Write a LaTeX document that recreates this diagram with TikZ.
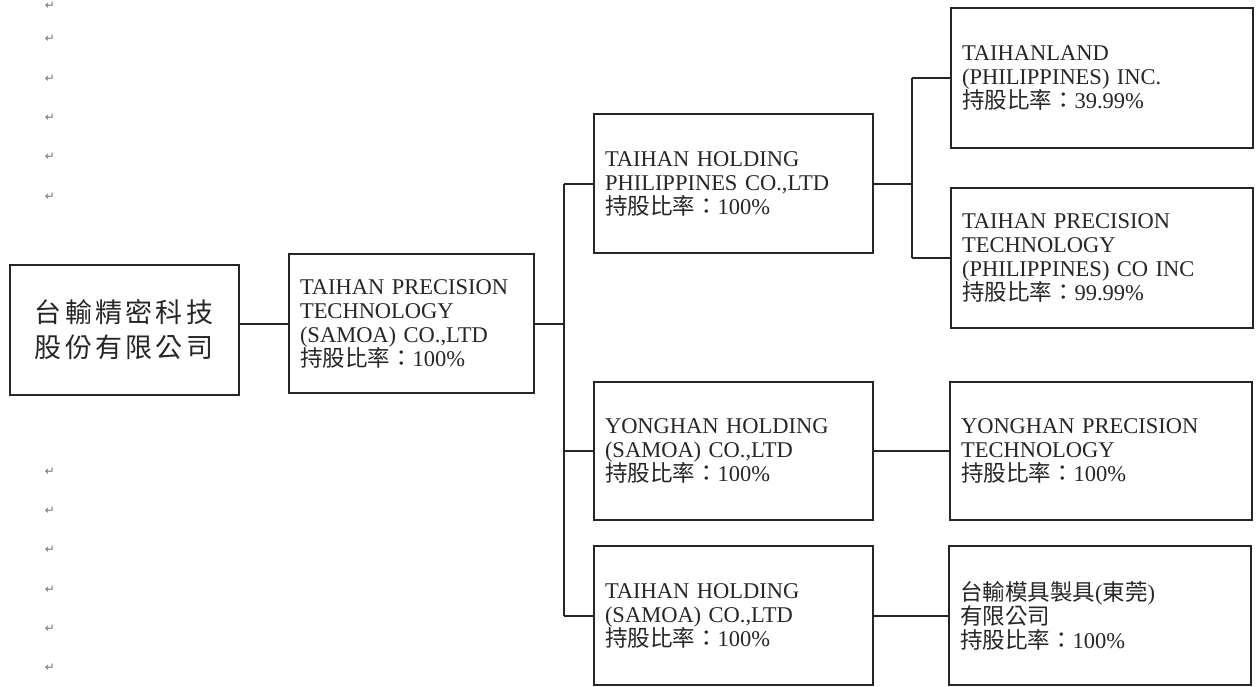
\documentclass[tikz,border=0pt]{standalone}
\usepackage{fontspec}
\setmainfont{Liberation Serif}
\newfontfamily\cjk{Noto Sans CJK TC}
\newfontfamily\cjkwide[LetterSpace=12]{Noto Sans CJK TC}
\newfontfamily\djv{DejaVu Sans}
\newcommand{\sharepct}[1]{{\cjk 持股比率：}#1}
\begin{document}
\begin{tikzpicture}[x=1pt,y=-1pt,
  box/.style={draw=black!85, line width=2pt, rectangle, inner xsep=11pt, inner ysep=0pt,
    align=left, font=\fontsize{22.5}{24}\selectfont, text=black!85},
  link/.style={draw=black!85, line width=2pt},
  pmark/.style={font=\djv\fontsize{12}{12}\selectfont, text=black!55, inner sep=0pt}]
\useasboundingbox (0,0) rectangle (1256,686);
\fill[white] (0,0) rectangle (1256,686);

% paragraph marks
\foreach \i/\yy in {1/6,2/39,3/79,4/118,5/157,6/197,7/472,8/511,9/550,10/590,11/629,12/668}
  \node[pmark] (m\i) at (50,\yy) {↵};

% boxes
\node[box, minimum width=229pt, minimum height=130pt, text width=207pt, align=center,
  font=\cjkwide\fontsize{27}{35}\selectfont] (root) at (124,330) {台輸精密科技\\股份有限公司};
\node[box, minimum width=245pt, minimum height=139pt, text width=223pt] (samoa) at (411.5,323.5)
  {TAIHAN PRECISION\\TECHNOLOGY\\(SAMOA) CO.,LTD\\\sharepct{100\%}};
\node[box, minimum width=279pt, minimum height=139pt, text width=257pt] (thp) at (733.5,183.5)
  {TAIHAN HOLDING\\PHILIPPINES CO.,LTD\\\sharepct{100\%}};
\node[box, minimum width=279pt, minimum height=138pt, text width=257pt] (yh) at (733.5,451)
  {YONGHAN HOLDING\\(SAMOA) CO.,LTD\\\sharepct{100\%}};
\node[box, minimum width=279pt, minimum height=139pt, text width=257pt] (ths) at (733.5,615.5)
  {TAIHAN HOLDING\\(SAMOA) CO.,LTD\\\sharepct{100\%}};
\node[box, minimum width=302pt, minimum height=140pt, text width=280pt] (tl) at (1102,78)
  {TAIHANLAND\\(PHILIPPINES) INC.\\\sharepct{39.99\%}};
\node[box, minimum width=302pt, minimum height=140pt, text width=280pt] (tptp) at (1102,258)
  {TAIHAN PRECISION\\TECHNOLOGY\\(PHILIPPINES) CO INC\\\sharepct{99.99\%}};
\node[box, minimum width=302pt, minimum height=138pt, text width=280pt] (yhp) at (1101,451)
  {YONGHAN PRECISION\\TECHNOLOGY\\\sharepct{100\%}};
\node[box, minimum width=302pt, minimum height=139pt, text width=280pt] (tmj) at (1100,615.5)
  {{\cjk 台輸模具製具}({\cjk 東莞})\\{\cjk 有限公司}\\\sharepct{100\%}};

% junction coordinates
\coordinate (j1) at (564,323);
\coordinate (j2) at (912,184);

% connectors
\draw[link] (samoa.west) -- (samoa.west -| root.east);
\draw[link] (samoa.east) -- (j1 |- samoa.east);
\draw[link] (j1 |- thp.west) -- (j1 |- ths.west);
\draw[link] (j1 |- thp.west) -- (thp.west);
\draw[link] (j1 |- yh.west) -- (yh.west);
\draw[link] (j1 |- ths.west) -- (ths.west);
\draw[link] (thp.east) -- (j2 |- thp.east);
\draw[link] (j2 |- tl.west) -- (j2 |- tptp.west);
\draw[link] (j2 |- tl.west) -- (tl.west);
\draw[link] (j2 |- tptp.west) -- (tptp.west);
\draw[link] (yh.east) -- (yhp.west);
\draw[link] (ths.east) -- (tmj.west);
\end{tikzpicture}
\end{document}
